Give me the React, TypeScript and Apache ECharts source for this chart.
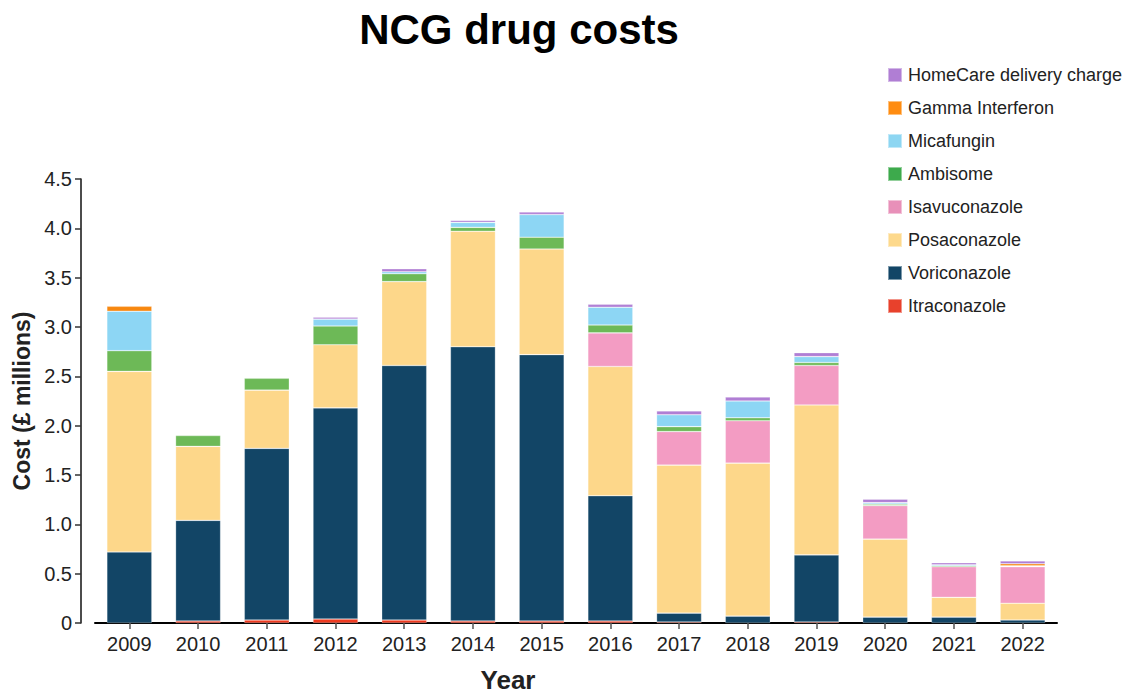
import React, { useEffect, useRef } from "react";
import * as echarts from "echarts";

// Annual NCG antifungal drug spend, £ millions, by drug
const years = ["2009", "2010", "2011", "2012", "2013", "2014", "2015", "2016", "2017", "2018", "2019", "2020", "2021", "2022"];
const itraconazole = [0, 0.02, 0.03, 0.04, 0.03, 0.02, 0.02, 0.02, 0.01, 0, 0.01, 0, 0, 0];
const voriconazole = [0.72, 1.02, 1.74, 2.14, 2.58, 2.78, 2.7, 1.27, 0.09, 0.07, 0.68, 0.06, 0.06, 0.03];
const posaconazole = [1.83, 0.75, 0.59, 0.64, 0.85, 1.17, 1.07, 1.31, 1.5, 1.55, 1.52, 0.79, 0.2, 0.17];
const isavuconazole = [0, 0, 0, 0, 0, 0, 0, 0.34, 0.34, 0.43, 0.4, 0.34, 0.31, 0.37];
const ambisome = [0.21, 0.11, 0.12, 0.19, 0.08, 0.04, 0.12, 0.08, 0.05, 0.03, 0.03, 0.015, 0.01, 0.005];
const micafungin = [0.4, 0, 0, 0.07, 0.02, 0.05, 0.23, 0.18, 0.12, 0.17, 0.06, 0.015, 0.01, 0.005];
const gammaInterferon = [0.05, 0, 0, 0, 0, 0, 0, 0, 0, 0, 0, 0, 0, 0.02];
const homeCare = [0, 0, 0, 0.02, 0.03, 0.02, 0.025, 0.03, 0.04, 0.04, 0.04, 0.035, 0.02, 0.03];

const yTicks = { min: 0, max: 4.5, interval: 0.5 };

// bottom-to-top stacking order; fill colour for bars, swatch colour for legend
const drugs = [
  { name: "Itraconazole", values: itraconazole, bar: "#EE3A20", swatch: "#E8412C" },
  { name: "Voriconazole", values: voriconazole, bar: "#124566", swatch: "#124566" },
  { name: "Posaconazole", values: posaconazole, bar: "#FDD78A", swatch: "#FDD98C" },
  { name: "Isavuconazole", values: isavuconazole, bar: "#F39CC3", swatch: "#E890B9" },
  { name: "Ambisome", values: ambisome, bar: "#6DB957", swatch: "#3DAA4C" },
  { name: "Micafungin", values: micafungin, bar: "#8DD6F4", swatch: "#8DD6F2" },
  { name: "Gamma Interferon", values: gammaInterferon, bar: "#F7870F", swatch: "#FF8C10" },
  { name: "HomeCare delivery charge", values: homeCare, bar: "#B07ED4", swatch: "#B07ED4" },
];

const FONT = "'Liberation Sans', Arial, Helvetica, sans-serif";

export default function App() {
  const ref = useRef<HTMLDivElement>(null);

  useEffect(() => {
    if (!ref.current) return;
    document.body.style.margin = "0";
    const chart = echarts.init(ref.current, undefined, { renderer: "svg" });

    chart.setOption({
      animation: false,
      textStyle: { fontFamily: FONT },
      grid: { left: 95, right: 73, top: 179, bottom: 72, containLabel: false },
      graphic: [
        {
          type: "text",
          x: 519,
          y: 29,
          style: {
            text: "NCG drug costs",
            font: `bold 42px ${FONT}`,
            fill: "#000",
            textAlign: "center",
            textVerticalAlign: "middle",
          },
        },
        {
          type: "text",
          x: 508,
          y: 680,
          style: {
            text: "Year",
            font: `bold 26px ${FONT}`,
            fill: "#222",
            textAlign: "center",
            textVerticalAlign: "middle",
          },
        },
        {
          type: "text",
          x: 22,
          y: 401,
          rotation: Math.PI / 2,
          style: {
            text: "Cost (£ millions)",
            font: `bold 23px ${FONT}`,
            fill: "#222",
            textAlign: "center",
            textVerticalAlign: "middle",
          },
        },
      ],
      legend: {
        orient: "vertical",
        left: 882,
        top: 61,
        itemWidth: 14,
        itemHeight: 14,
        itemGap: 15,
        icon: "rect",
        textStyle: { fontSize: 18, color: "#222", fontFamily: FONT, padding: [0, 0, 0, 1] },
        data: drugs
          .slice()
          .reverse()
          .map((d) => ({ name: d.name, itemStyle: { color: d.swatch } })),
      },
      xAxis: {
        type: "category",
        data: years,
        axisLine: { show: true, lineStyle: { color: "#000", width: 2 } },
        axisTick: { show: true, alignWithLabel: true, length: 6, lineStyle: { color: "#555", width: 1.5 } },
        axisLabel: { color: "#222", fontSize: 20, margin: 11, fontFamily: FONT },
        splitLine: { show: false },
      },
      yAxis: {
        type: "value",
        min: yTicks.min,
        max: yTicks.max,
        interval: yTicks.interval,
        offset: 14,
        axisLine: { show: true, lineStyle: { color: "#111", width: 1.5 } },
        axisTick: { show: true, length: 6, lineStyle: { color: "#333", width: 1.5 } },
        axisLabel: {
          color: "#222",
          fontSize: 20,
          margin: 9,
          fontFamily: FONT,
          formatter: (v: number) => (v === 0 ? "0" : v.toFixed(1)),
        },
        splitLine: { show: false },
      },
      series: drugs.map((d) => ({
        name: d.name,
        type: "bar",
        stack: "cost",
        barWidth: 45,
        data: d.values.map((v) => (v === 0 ? null : v)),
        itemStyle: { color: d.bar, borderColor: "rgba(255,255,255,0.45)", borderWidth: 0.6 },
        emphasis: { disabled: true },
      })),
    });

    return () => chart.dispose();
  }, []);

  return <div ref={ref} style={{ width: 1130, height: 695 }} />;
}
